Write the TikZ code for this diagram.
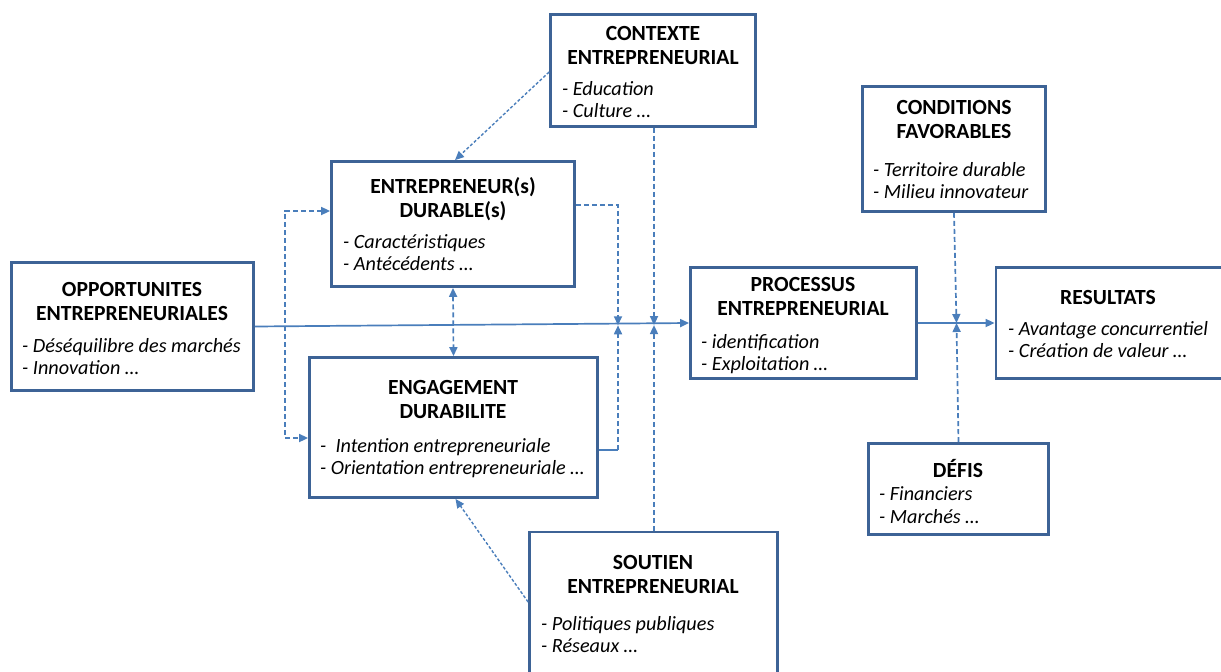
\documentclass[tikz,border=0pt]{standalone}
\usepackage{fontspec}
\setmainfont{Carlito}
\usetikzlibrary{arrows.meta,calc}
\definecolor{boxblue}{HTML}{3D6396}
\definecolor{linkblue}{HTML}{4A7EBB}
\begin{document}
\begin{tikzpicture}[x=1pt,y=-1pt,
  panel/.style={draw=boxblue, line width=2.8pt, fill=white, rectangle, inner sep=0pt},
  ttl/.style={anchor=base, align=center, inner sep=0pt, font=\fontsize{21.6}{24.5}\selectfont\bfseries},
  itm/.style={anchor=base west, align=left, inner sep=0pt, font=\fontsize{20.2}{22.5}\selectfont\itshape},
  linkline/.style={draw=linkblue, line width=1.7pt},
  arr/.style={-{Triangle[length=9pt,width=8pt]}},
  dblarr/.style={{Triangle[length=9pt,width=8pt]}-{Triangle[length=9pt,width=8pt]}},
  dashlink/.style={linkline, dash pattern=on 5pt off 3pt},
  finelink/.style={linkline, line width=1.4pt, dash pattern=on 3pt off 2pt}
]
\useasboundingbox (0,0) rectangle (1221,672);

% boxes
\node[panel, minimum width=205pt, minimum height=112pt] (ctx) at (653,70.5) {};
\node[panel, minimum width=243pt, minimum height=125pt] (ent) at (453,224) {};
\node[panel, minimum width=242pt, minimum height=128pt] (opp) at (132.5,326.5) {};
\node[panel, minimum width=288pt, minimum height=140pt] (eng) at (453.5,427.5) {};
\node[panel, minimum width=226pt, minimum height=111pt] (proc) at (803.5,323) {};
\node[panel, minimum width=183pt, minimum height=125pt] (cond) at (954,149) {};
\node[panel, minimum width=244pt, minimum height=111pt] (res) at (1118,323) {};
\node[panel, minimum width=180pt, minimum height=91pt] (def) at (958.5,489) {};
\node[panel, minimum width=248pt, minimum height=158pt] (sou) at (653.5,611) {};

% titles (base anchor = baseline of last line)
\node[ttl] (ctxT) at (653,64.5) {CONTEXTE\\ENTREPRENEURIAL};
\node[ttl] (entT) at (453,217.5) {ENTREPRENEUR(s)\\DURABLE(s)};
\node[ttl] (oppT) at (132,320.5) {OPPORTUNITES\\ENTREPRENEURIALES};
\node[ttl] (engT) at (453,418.5) {ENGAGEMENT\\DURABILITE};
\node[ttl] (procT) at (803,315.5) {PROCESSUS\\ENTREPRENEURIAL};
\node[ttl] (condT) at (954,138.5) {CONDITIONS\\FAVORABLES};
\node[ttl] (resT) at (1108,304) {RESULTATS};
\node[ttl] (defT) at (958,477) {DÉFIS};
\node[ttl] (souT) at (653,593.5) {SOUTIEN\\ENTREPRENEURIAL};

% items (base anchor = baseline of last line)
\node[itm] (ctxI) at (562,117.5) {- Education\\- Culture …};
\node[itm] (entI) at (343,270.5) {- Caractéristiques\\- Antécédents …};
\node[itm] (oppI) at (22,374.5) {- Déséquilibre des marchés\\- Innovation …};
\node[itm] (engI) at (320,474.5) {- ~Intention entrepreneuriale\\- Orientation entrepreneuriale …};
\node[itm] (procI) at (701,370.5) {- identification\\- Exploitation …};
\node[itm] (condI) at (873,198.5) {- Territoire durable\\- Milieu innovateur};
\node[itm] (resI) at (1008,357.5) {- Avantage concurrentiel\\- Création de valeur …};
\node[itm] (defI) at (879,523) {- Financiers\\- Marchés …};
\node[itm] (souI) at (541,652.5) {- Politiques publiques\\- Réseaux …};

% junctions
\coordinate (j1) at (618,325.3);
\coordinate (j2) at (654,325.1);
\coordinate (j3) at (956.5,323);
\coordinate (rt) at (618,205);
\coordinate (eb) at (618,450);
\coordinate (lt) at (285,211);
\coordinate (lb) at (285,438);

% main flow
\draw[linkline, arr] (opp.east) -- (proc.west);
\draw[linkline, arr] (proc.east) -- (res.west);

% feedback loops
\draw[dashlink, arr] (ent.east |- rt) -- (rt) -- (j1);
\draw[linkline] (eng.east |- eb) -- (eb);
\draw[dashlink, arr] (eb) -- (j1);
\draw[dashlink, dblarr] (ent.west |- lt) -- (lt) -- (lb) -- (eng.west |- lb);
\draw[dashlink, dblarr] (ent.south) -- (eng.north);

% context and support
\draw[dashlink, arr] (ctx.south -| j2) -- (j2);
\draw[dashlink, arr] (sou.north -| j2) -- (j2);
\draw[finelink, arr] ($(ctx.west)+(0,1.5)$) -- ($(ent.north)+(2,0)$);
\draw[finelink, arr] ($(sou.west)+(0,-9)$) -- ($(eng.south)+(2,0)$);

% conditions and challenges
\draw[dashlink, arr] (cond.south) -- (j3);
\draw[dashlink, arr] (def.north) -- (j3);
\end{tikzpicture}
\end{document}
